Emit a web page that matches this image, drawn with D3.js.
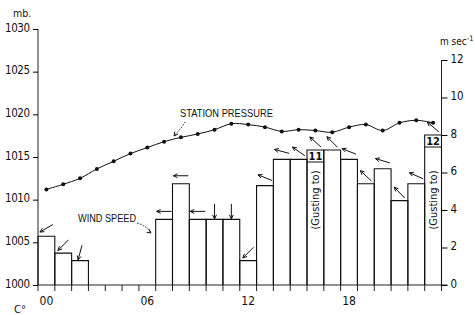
<!DOCTYPE html>
<html>
<head>
<meta charset="utf-8">
<script src="https://cdn.jsdelivr.net/npm/d3@7"></script>
<style>
  body { margin: 0; background: #fff; }
  svg { display: block; }
  text { font-family: "Liberation Sans Narrow", "DejaVu Sans Condensed", "Liberation Sans", sans-serif; fill: #111; }
</style>
</head>
<body>
<svg width="475" height="315"></svg>
<script>
'use strict';

let hours = d3.range(24);
let hourLabels = ["00", "06", "12", "18"];
let pressure = [1011.2, 1011.8, 1012.5, 1013.6, 1014.5, 1015.4, 1016.1, 1016.8, 1017.3, 1017.7, 1018.2, 1018.9,
                1018.8, 1018.5, 1018.0, 1018.2, 1018.1, 1017.9, 1018.5, 1018.8, 1018.1, 1019.0, 1019.3, 1019.0];
let windSpeed = [2.6, 1.7, 1.3, 0, 0, 0, 0, 3.5, 5.4, 3.5, 3.5, 3.5,
                 1.3, 5.3, 6.7, 6.7, 7.2, 7.2, 6.7, 5.4, 6.2, 4.5, 5.4, 8.0];
// direction the arrow points, compass degrees (null = calm)
let windDir = [240, 225, 195, null, null, null, null, 270, 270, 270, 180, 180,
               225, 292, 285, 305, 312, 315, 292, 313, 287, 316, 294, 310];
let gusts = [{hour: 16, value: 11}, {hour: 23, value: 12}];
let pressureTicks = [1000, 1005, 1010, 1015, 1020, 1025, 1030];
let windTicks = [0, 2, 4, 6, 8, 10, 12];

let svg = d3.select("svg");

let x = d3.scaleLinear().domain([0, 24]).range([38, 441.5]);
let yP = d3.scaleLinear().domain([1000, 1030]).range([285, 29]);
let yW = d3.scaleLinear().domain([0, 12]).range([285, 60]);

// left axis
let left = svg.append("g").attr("transform", `translate(${x(0)},0)`)
  .call(d3.axisLeft(yP).tickValues(pressureTicks).tickSize(5).tickPadding(3).tickFormat(d3.format("d")));
left.select(".domain").attr("stroke", "#222").attr("d", `M0,${yP(1030)}V${yP(1000)}`);
left.selectAll("text").attr("font-size", 11.5).attr("dy", "0.2em").attr("textLength", 25);

// right axis
let right = svg.append("g").attr("transform", `translate(${x(24)},0)`)
  .call(d3.axisRight(yW).tickValues(windTicks).tickSize(6).tickPadding(3));
right.select(".domain").attr("stroke", "#222").attr("d", `M0,${yW(12)}V${yW(0)}`);
right.selectAll("text").attr("font-size", 11.5).attr("dy", "0.2em");

// baseline and hour ticks
svg.append("line")
  .attr("x1", x(0)).attr("x2", x(24) + 6)
  .attr("y1", yW(0)).attr("y2", yW(0))
  .attr("stroke", "#222").attr("stroke-width", 1.2);

svg.append("g").selectAll("line")
  .data(d3.range(25))
  .join("line")
    .attr("x1", d => x(d)).attr("x2", d => x(d))
    .attr("y1", yW(0)).attr("y2", yW(0) + 6)
    .attr("stroke", "#222");

svg.append("g").selectAll("text")
  .data(hourLabels)
  .join("text")
    .attr("x", d => x(+d + 0.5))
    .attr("y", 305)
    .attr("text-anchor", "middle")
    .attr("font-size", 12)
    .text(d => d);

// wind bars
let bars = hours.filter(h => windSpeed[h] > 0);
svg.append("g")
    .attr("fill", "none")
    .attr("stroke", "#111")
    .attr("stroke-width", 1.1)
  .selectAll("path")
  .data(bars)
  .join("path")
    .attr("d", h => `M${x(h)},${yW(0)}V${yW(windSpeed[h])}H${x(h + 1)}V${yW(0)}`);

// gust boxes
let gust = svg.append("g").selectAll("g")
  .data(gusts)
  .join("g");

gust.append("line")
  .attr("x1", d => x(d.hour)).attr("x2", d => x(d.hour + 1))
  .attr("y1", d => yW(windSpeed[d.hour]) + 12).attr("y2", d => yW(windSpeed[d.hour]) + 12)
  .attr("stroke", "#111");

gust.append("text")
  .attr("x", d => x(d.hour + 0.5))
  .attr("y", d => yW(windSpeed[d.hour]) + 10)
  .attr("text-anchor", "middle")
  .attr("font-size", 11)
  .attr("font-weight", "bold")
  .text(d => d.value);

gust.append("text")
  .attr("transform", d => `translate(${x(d.hour + 0.5) + 4},200) rotate(-90)`)
  .attr("text-anchor", "middle")
  .attr("font-size", 11)
  .text("(Gusting to)");

// wind arrows
let arrows = hours.filter(h => windDir[h] != null);
svg.append("g")
    .attr("stroke", "#111")
    .attr("stroke-width", 1)
    .attr("fill", "none")
  .selectAll("path")
  .data(arrows)
  .join("path")
    .attr("d", h => {
      let a = windDir[h] * Math.PI / 180;
      let ux = Math.sin(a), uy = -Math.cos(a);
      let cx = x(h + 0.5), cy = yW(windSpeed[h]) - 8;
      let L = 7.5;
      let hx = cx + ux * L, hy = cy + uy * L;
      let tx = cx - ux * L, ty = cy - uy * L;
      let k = 4.5, s = 0.45;
      let b1x = hx - k * (ux * Math.cos(s) - uy * Math.sin(s));
      let b1y = hy - k * (uy * Math.cos(s) + ux * Math.sin(s));
      let b2x = hx - k * (ux * Math.cos(s) + uy * Math.sin(s));
      let b2y = hy - k * (uy * Math.cos(s) - ux * Math.sin(s));
      return `M${tx},${ty}L${hx},${hy}M${b1x},${b1y}L${hx},${hy}L${b2x},${b2y}`;
    });

// station pressure
let line = d3.line()
  .x((d, i) => x(i + 0.5))
  .y(d => yP(d))
  .curve(d3.curveCatmullRom);

svg.append("path")
  .datum(pressure)
  .attr("fill", "none")
  .attr("stroke", "#111")
  .attr("stroke-width", 1)
  .attr("d", line);

svg.append("g").selectAll("circle")
  .data(pressure)
  .join("circle")
    .attr("cx", (d, i) => x(i + 0.5))
    .attr("cy", d => yP(d))
    .attr("r", 2)
    .attr("fill", "#111");

// labels and leaders
svg.append("text")
  .attr("x", 180).attr("y", 117)
  .attr("font-size", 10.5)
  .attr("textLength", 93)
  .attr("lengthAdjust", "spacingAndGlyphs")
  .style("font-family", "'Liberation Sans', Arial, sans-serif")
  .text("STATION PRESSURE");

svg.append("text")
  .attr("x", 78).attr("y", 222)
  .attr("font-size", 10.5)
  .attr("textLength", 58)
  .attr("lengthAdjust", "spacingAndGlyphs")
  .style("font-family", "'Liberation Sans', Arial, sans-serif")
  .text("WIND SPEED");

let leaders = [
  {from: [185, 122], to: [174, 136]},
  {from: [137, 223], to: [151, 233]}
];
let leader = svg.append("g")
    .attr("stroke", "#111")
    .attr("fill", "none")
  .selectAll("g")
  .data(leaders)
  .join("g");

leader.append("path")
  .attr("stroke-dasharray", "1.5,1.5")
  .attr("d", d => `M${d.from[0]},${d.from[1]}Q${(d.from[0] + d.to[0]) / 2 + 3},${(d.from[1] + d.to[1]) / 2 - 2} ${d.to[0]},${d.to[1]}`);

leader.append("path")
  .attr("d", d => {
    let dx = d.to[0] - d.from[0], dy = d.to[1] - d.from[1];
    let n = Math.hypot(dx, dy); dx /= n; dy /= n;
    let k = 4;
    return `M${d.to[0] - k * (dx - dy * 0.5)},${d.to[1] - k * (dy + dx * 0.5)}L${d.to[0]},${d.to[1]}L${d.to[0] - k * (dx + dy * 0.5)},${d.to[1] - k * (dy - dx * 0.5)}`;
  });

svg.append("text").attr("x", 13).attr("y", 17).attr("font-size", 10.5).text("mb.");
svg.append("text").attr("x", 440).attr("y", 45).attr("font-size", 10)
  .html("m&#160;sec<tspan dy='-4' font-size='7.5'>-1</tspan>");
svg.append("text").attr("x", 14).attr("y", 313).attr("font-size", 11).text("C°");
</script>
</body>
</html>
